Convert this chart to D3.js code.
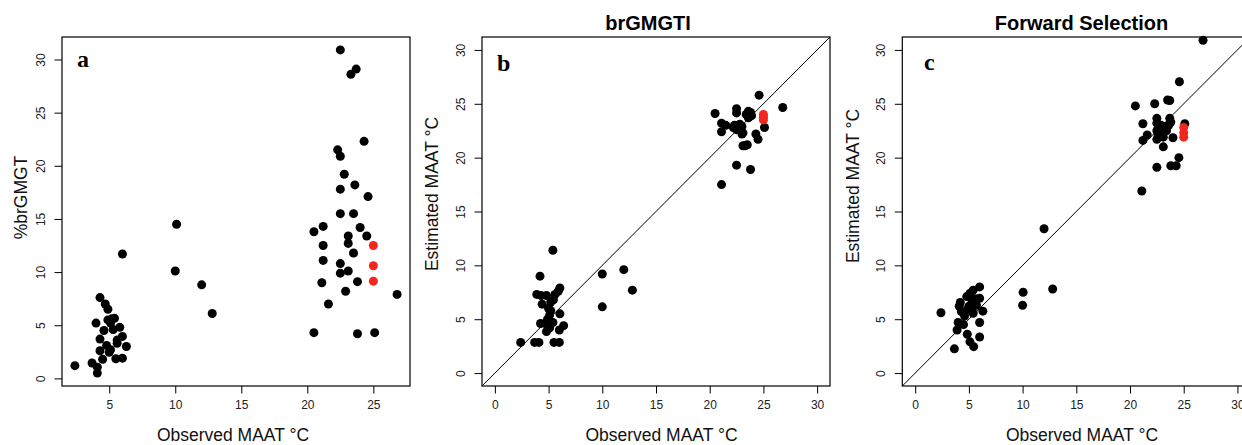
<!DOCTYPE html>
<html>
<head>
<meta charset="utf-8">
<script src="https://cdn.jsdelivr.net/npm/d3@7"></script>
<style>
  html, body { margin: 0; padding: 0; background: #fff; }
  svg { display: block; font-family: "Liberation Sans", Arial, Helvetica, sans-serif; }
</style>
</head>
<body>
<svg id="chart" width="1242" height="445"></svg>
<script>
// ---------- DATA ----------
// Panel a: %brGMGT vs observed MAAT
const obsA = [2.4,3.7,4.0,4.1,4.1,4.3,4.3,4.3,4.6,4.7,4.8,4.9,4.9,5.0,5.1,5.2,5.3,5.4,5.5,5.6,5.6,5.8,6.0,6.0,6.3,4.5,5.1,
  6.0,10.1,10.0,12.0,12.8,
  22.5,23.7,23.3,24.3,22.3,22.5,22.8,23.6,22.5,24.6,22.5,23.5,20.5,21.2,24.0,24.5,23.1,23.1,21.2,23.5,
  21.2,22.5,22.5,23.1,21.1,23.8,22.9,21.6,26.8,20.5,23.8,25.1];
const pctA = [1.2,1.45,5.2,1.05,0.5,7.6,3.7,2.6,4.5,7.0,3.1,6.5,5.5,2.45,2.7,5.6,4.6,5.65,1.85,3.6,3.3,4.8,3.95,1.9,3.0,1.8,5.2,
  11.7,14.5,10.1,8.8,6.1,
  30.9,29.1,28.6,22.3,21.5,20.9,19.2,18.2,17.8,17.1,15.5,15.5,13.8,14.3,14.2,13.4,13.4,12.7,12.5,11.8,
  11.1,10.8,9.9,10.1,9.0,9.1,8.2,7.0,7.9,4.3,4.2,4.3];
const obsRedA = [25.0,25.0,25.0];
const pctRedA = [12.5,10.6,9.15];

// Panel b: brGMGTI estimated vs observed MAAT
const obsB = [2.4,3.7,4.1,5.5,6.0,5.4,4.2,3.9,4.3,4.8,5.6,6.05,5.9,4.4,5.45,5.2,5.0,5.1,4.9,6.05,4.25,4.7,5.4,4.8,6.4,6.0,5.1,5.2,
  10.0,12.0,12.8,10.0,
  24.6,26.8,20.5,22.5,22.5,23.4,23.6,23.8,23.6,23.9,25.1,21.1,21.5,21.1,22.3,22.6,22.8,23.0,22.5,23.1,
  23.0,22.2,24.3,24.5,23.1,23.5,23.3,22.5,23.8,21.1,22.8,23.7];
const estB = [2.85,2.85,2.85,2.85,2.85,11.4,9.0,7.3,7.2,7.2,7.3,7.9,7.6,6.4,6.8,6.6,6.0,5.4,5.0,5.5,4.6,4.6,4.7,3.85,4.4,4.0,4.2,5.8,
  9.2,9.6,7.7,6.15,
  25.8,24.65,24.1,24.55,24.15,24.0,24.3,24.2,23.7,23.9,22.8,23.2,23.0,22.4,23.0,22.9,22.7,22.9,22.6,22.3,
  22.2,22.8,22.2,21.7,21.1,21.2,21.1,19.3,18.9,17.5,23.1,23.8];
const obsRedB = [25.0,25.0,25.0];
const estRedB = [24.0,23.75,23.5];

// Panel c: forward selection estimated vs observed MAAT
const obsC = [2.4,3.65,5.45,5.1,4.85,6.0,6.0,3.9,4.0,4.5,6.3,4.2,6.0,5.4,5.1,4.8,6.0,5.4,4.3,4.6,5.3,5.6,5.0,5.7,4.1,4.9,5.3,
  12.0,10.05,10.0,12.8,
  26.8,24.6,20.5,22.3,23.5,23.7,21.2,22.5,23.7,23.8,25.1,21.6,21.2,22.5,23.1,24.0,22.5,23.8,24.3,24.55,
  21.1,22.5,22.7,23.0,23.3,22.6,23.4,23.6,22.9,22.5,23.1,22.8];
const estC = [5.6,2.25,2.45,2.9,3.6,3.35,4.7,4.0,4.7,4.5,5.75,6.55,8.0,7.7,7.4,7.1,6.95,5.55,5.7,5.3,6.6,6.9,6.2,6.3,6.2,5.9,6.0,
  13.4,7.5,6.3,7.8,
  30.9,27.05,24.8,25.0,25.35,25.3,23.15,23.65,23.65,23.3,23.15,22.1,21.6,21.7,21.0,21.85,19.1,19.25,19.25,20.0,
  16.9,23.2,22.8,22.4,22.9,22.2,22.5,23.0,23.0,22.5,21.9,22.0];
const obsRedC = [25.0,25.0,25.0];
const estRedC = [22.8,22.3,21.9];

// Tick labels
const ticksA_x = [5,10,15,20,25];
const ticksA_y = [0,5,10,15,20,25,30];
const ticks030 = [0,5,10,15,20,25,30];

// ---------- DRAW ----------
const svg = d3.select("#chart");
const plotTop = 37, plotBottom = 386, boxW = 348;

function pad4(lo, hi) { const d = (hi - lo) * 0.04; return [lo - d, hi + d]; }

function panel(opts) {
  const { left, xs, ys, xr, yr, xDom, yDom, xTicks, yTicks, diag, letter, letterPos,
          yLabel, yLabelPos, xLabelX, title, titleX } = opts;
  const x = d3.scaleLinear().domain(xDom).range([left, left + boxW]);
  const y = d3.scaleLinear().domain(yDom).range([plotBottom, plotTop]);
  const g = svg.append("g");

  // x axis
  const xa = g.append("g").attr("transform", `translate(0,${plotBottom})`)
    .call(d3.axisBottom(x).tickValues(xTicks).tickSize(7.5).tickPadding(7).tickSizeOuter(0));
  xa.select(".domain").remove();
  xa.selectAll("line").attr("stroke", "#000");
  xa.selectAll("text").style("font-family", "'Liberation Sans', Arial, sans-serif")
    .attr("font-size", 12).attr("fill", "#222");

  // y axis (rotated labels, like R)
  const ya = g.append("g").attr("transform", `translate(${left},0)`)
    .call(d3.axisLeft(y).tickValues(yTicks).tickSize(7.5).tickSizeOuter(0));
  ya.select(".domain").remove();
  ya.selectAll("line").attr("stroke", "#000");
  ya.selectAll("text")
    .style("font-family", "'Liberation Sans', Arial, sans-serif")
    .attr("font-size", 12).attr("fill", "#222")
    .attr("x", null).attr("dy", null)
    .attr("text-anchor", "middle")
    .attr("transform", "translate(-17,0) rotate(-90)");

  const clipId = "clip" + letter;
  svg.append("clipPath").attr("id", clipId).append("rect")
    .attr("x", left).attr("y", plotTop).attr("width", boxW).attr("height", plotBottom - plotTop);

  if (diag) {
    const lo = Math.max(xDom[0], yDom[0]), hi = Math.min(xDom[1], yDom[1]);
    g.append("line").attr("clip-path", `url(#${clipId})`)
      .attr("x1", x(lo)).attr("y1", y(lo)).attr("x2", x(hi)).attr("y2", y(hi))
      .attr("stroke", "#000").attr("stroke-width", 1);
  }

  g.append("g").selectAll("circle").data(xs.map((v, i) => [v, ys[i]])).join("circle")
    .attr("cx", d => x(d[0])).attr("cy", d => y(d[1])).attr("r", 4.5).attr("fill", "#000");
  g.append("g").selectAll("circle").data(xr.map((v, i) => [v, yr[i]])).join("circle")
    .attr("cx", d => x(d[0])).attr("cy", d => y(d[1])).attr("r", 4.5).attr("fill", "#f2261c");

  g.append("rect").attr("x", left).attr("y", plotTop).attr("width", boxW).attr("height", plotBottom - plotTop)
    .attr("fill", "none").attr("stroke", "#000").attr("stroke-width", 1.2);

  g.append("text").attr("x", letterPos[0]).attr("y", letterPos[1])
    .style("font-family", "'Liberation Serif', 'Times New Roman', serif")
    .attr("font-weight", "bold").attr("font-size", 24).text(letter);

  g.append("text").attr("transform", `translate(${yLabelPos[0]},${yLabelPos[1]}) rotate(-90)`)
    .attr("text-anchor", "middle").attr("dy", "0.35em").attr("font-size", 17.5).attr("fill", "#111")
    .text(yLabel);

  g.append("text").attr("x", xLabelX).attr("y", 441).attr("text-anchor", "middle")
    .attr("font-size", 17.5).attr("fill", "#111").text("Observed MAAT °C");

  if (title) {
    g.append("text").attr("x", titleX).attr("y", 30).attr("text-anchor", "middle")
      .attr("font-size", 20).attr("font-weight", "bold").attr("fill", "#000").text(title);
  }
}

const allA_x = obsA.concat(obsRedA), allA_y = pctA.concat(pctRedA);
panel({
  left: 62, xs: obsA, ys: pctA, xr: obsRedA, yr: pctRedA,
  xDom: pad4(d3.min(allA_x), d3.max(allA_x)), yDom: pad4(d3.min(allA_y), d3.max(allA_y)),
  xTicks: ticksA_x, yTicks: ticksA_y, diag: false,
  letter: "a", letterPos: [77, 67],
  yLabel: "%brGMGT", yLabelPos: [21, 197.5], xLabelX: 233
});
panel({
  left: 482, xs: obsB, ys: estB, xr: obsRedB, yr: estRedB,
  xDom: pad4(0, 30), yDom: pad4(0, 30),
  xTicks: ticks030, yTicks: ticks030, diag: true,
  letter: "b", letterPos: [497, 70.5],
  yLabel: "Estimated MAAT °C", yLabelPos: [432, 194], xLabelX: 661.5,
  title: "brGMGTI", titleX: 648
});
panel({
  left: 902.3, xs: obsC, ys: estC, xr: obsRedC, yr: estRedC,
  xDom: pad4(0, 30), yDom: pad4(0, 30),
  xTicks: ticks030, yTicks: ticks030, diag: true,
  letter: "c", letterPos: [924, 70],
  yLabel: "Estimated MAAT °C", yLabelPos: [853, 186], xLabelX: 1082,
  title: "Forward Selection", titleX: 1081.5
});
</script>
</body>
</html>
